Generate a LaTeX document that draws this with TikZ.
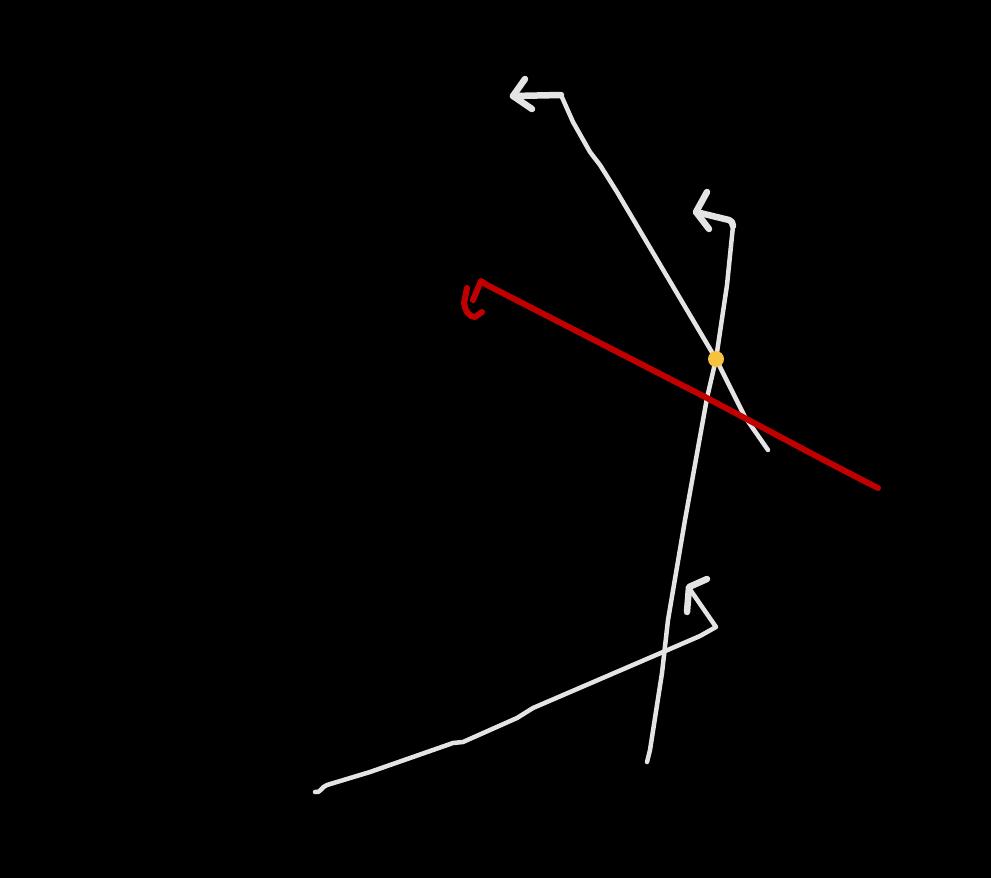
\documentclass[tikz,border=0pt]{standalone}
\begin{document}
\begin{tikzpicture}[x=1pt,y=-1pt,
  stroke/.style={draw=inkwhite,line width=4.5pt,line cap=round,line join=round},
  headstroke/.style={draw=inkwhite,line width=6.5pt,line cap=round,line join=round},
  redstroke/.style={draw=inkred,line width=6pt,line cap=round,line join=round}]
\definecolor{inkwhite}{HTML}{E4E4E4}
\definecolor{inkred}{HTML}{C00000}
\definecolor{inkyellow}{HTML}{F7C23E}
\fill[black] (0,0) rectangle (991,878);
\useasboundingbox (0,0) rectangle (991,878);
% line 1
\coordinate (a1) at (768,450);
\coordinate (a2) at (561,95);
\draw[stroke] (a1) -- (745,417) -- (716,359) -- (617,192) -- (600,165) -- (590,152) -- (573,122) -- (a2);
\draw[headstroke] (a2) -- (513,96);
\draw[headstroke] (525,79) -- (513,96) -- (532,109);
% line 2
\coordinate (b1) at (647,762);
\coordinate (b2) at (733,226);
\draw[stroke] (b1) -- (650,750) -- (662,673) -- (668,620) -- (685,520) -- (707,398) -- (716,359) -- (727,285) -- (b2);
\draw[headstroke] (b2) to[out=100,in=0] (729,220) -- (696,212);
\draw[headstroke] (707,192) -- (696,212) -- (709,229);
% line 3
\coordinate (c1) at (315,792);
\coordinate (c2) at (716,627);
\draw[stroke] (c1) to[out=-20,in=195] (327,785) -- (370,772) -- (453,743) -- (463,742) -- (517,718) -- (533,708) -- (663,652) -- (700,636) -- (c2) -- (689,588);
\draw[headstroke] (707,579) -- (689,587) -- (687,612);
% red line
\coordinate (r1) at (878,488);
\coordinate (r2) at (487,285);
\draw[redstroke] (r1) -- (870,484) -- (820,458) -- (707,398) -- (600,343) -- (r2) -- (481,281) -- (473,300);
\draw[redstroke] (467,288) -- (464,303) to[out=-80,in=180] (475,317) -- (482,312);
% yellow point
\fill[inkyellow] (716,359) circle (8);
\end{tikzpicture}
\end{document}
